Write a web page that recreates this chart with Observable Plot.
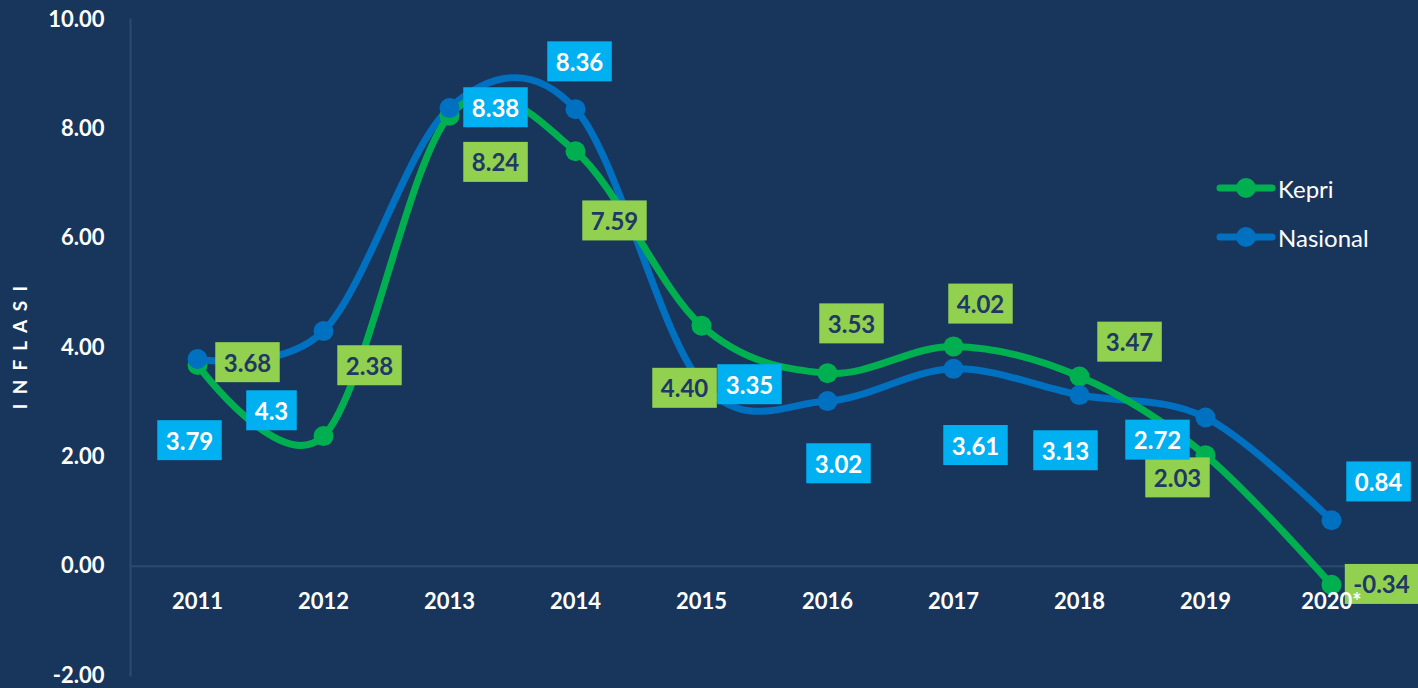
<!DOCTYPE html>
<html>
<head>
<meta charset="utf-8">
<script src="https://cdn.jsdelivr.net/npm/d3@7"></script>
<script src="https://cdn.jsdelivr.net/npm/@observablehq/plot@0.6"></script>
<style>
  html, body { margin: 0; padding: 0; background: #18365c; overflow: hidden; }
  #wrap { position: relative; width: 1418px; height: 688px; }
  #legend { position: absolute; left: 1216px; top: 170px; font-family: Lato, "Open Sans", sans-serif; font-size: 24px; color: #ffffff; }
  .li { display: flex; align-items: center; height: 36px; margin-bottom: 13px; }
  .li svg { display: block; margin-right: 2px; }
</style>
</head>
<body>
<div id="wrap"><div id="legend"></div></div>
<script>
const years = ["2011","2012","2013","2014","2015","2016","2017","2018","2019","2020*"];
const kepri = [3.68, 2.38, 8.24, 7.59, 4.40, 3.53, 4.02, 3.47, 2.03, -0.34];
const nasional = [3.79, 4.3, 8.38, 8.36, 3.35, 3.02, 3.61, 3.13, 2.72, 0.84];
const kepriLabels = ["3.68","2.38","8.24","7.59","4.40","3.53","4.02","3.47","2.03","-0.34"];
const nasionalLabels = ["3.79","4.3","8.38","8.36","3.35","3.02","3.61","3.13","2.72","0.84"];
const yTicks = [-2, 0, 2, 4, 6, 8, 10];
const yTitle = "INFLASI";

// label offsets (pixels) relative to each point
const kepriDx = [50, 46, 46, 39, -17, 24, 27, 50, -28, 50];
const kepriDy = [-1, -69, 48, 71, 64, -48, -41, -33, 24, 1];
const nasionalDx = [-8, -52, 46, 4, 48, 11, 22, -14, -48, 47];
const nasionalDy = [83, 81, 1, -46, 3, 64, 78, 57, 24, -37];

const KEPRI = "#00b050", NAS = "#0070c0";
const KBOX = "#92d050", NBOX = "#00b0f0", KTXT = "#1f3864";

const kData = years.map((y, i) => ({year: y, value: kepri[i], label: kepriLabels[i]}));
const nData = years.map((y, i) => ({year: y, value: nasional[i], label: nasionalLabels[i]}));

const labelMarks = [];
kData.forEach((d, i) => labelMarks.push(Plot.text([d], {x: "year", y: "value", text: "label", dx: kepriDx[i], dy: kepriDy[i], fill: KTXT, fontSize: 24, fontWeight: "bold"})));
nData.forEach((d, i) => labelMarks.push(Plot.text([d], {x: "year", y: "value", text: "label", dx: nasionalDx[i], dy: nasionalDy[i], fill: "#ffffff", fontSize: 24, fontWeight: "bold"})));

const spaced = yTitle.split("").join("\u00a0\u00a0");

const chart = Plot.plot({
  width: 1418,
  height: 688,
  marginLeft: 130,
  marginRight: 21,
  marginTop: 19,
  marginBottom: 13,
  style: {background: "#18365c", color: "#ffffff", fontFamily: "Lato, 'Open Sans', sans-serif", fontSize: "22px", fontWeight: "bold"},
  x: {type: "point", domain: years, padding: 0.5, axis: null},
  y: {domain: [-2, 10], ticks: yTicks, tickFormat: d => d.toFixed(2), tickSize: 0, tickPadding: 26, label: null},
  marks: [
    Plot.frame({anchor: "left", stroke: "#2c4a70", strokeWidth: 2}),
    Plot.ruleY([0], {stroke: "#2c4a70", strokeWidth: 2}),
    Plot.text([spaced], {frameAnchor: "left", textAnchor: "middle", y: 4, dx: -110, rotate: -90, text: d => d, fill: "#ffffff", fontSize: 19, fontWeight: "bold"}),
    Plot.line(nData, {x: "year", y: "value", stroke: NAS, strokeWidth: 7, curve: "cardinal"}),
    Plot.line(kData, {x: "year", y: "value", stroke: KEPRI, strokeWidth: 7, curve: "cardinal"}),
    Plot.dot(kData, {x: "year", y: "value", r: 10, fill: KEPRI}),
    Plot.dot(nData, {x: "year", y: "value", r: 10, fill: NAS}),
    ...labelMarks,
    Plot.text(years, {x: d => d, y: 0, dy: 36, text: d => d, fill: "#ffffff", fontSize: 22, fontWeight: "bold"})
  ]
});
document.getElementById("wrap").prepend(chart);

// boxes behind data labels
chart.querySelectorAll('g[font-size="24"]').forEach(g => {
  const fill = g.getAttribute("fill");
  const boxColor = fill === KTXT ? KBOX : NBOX;
  g.querySelectorAll("text").forEach(t => {
    const bb = t.getBBox();
    const r = document.createElementNS("http://www.w3.org/2000/svg", "rect");
    const w = bb.width + 17, h = 40;
    const cx = bb.x + bb.width / 2, cy = bb.y + bb.height / 2;
    r.setAttribute("x", cx - w / 2);
    r.setAttribute("y", cy - h / 2);
    r.setAttribute("width", w);
    r.setAttribute("height", h);
    r.setAttribute("fill", boxColor);
    r.setAttribute("stroke", "none");
    if (t.getAttribute("transform")) r.setAttribute("transform", t.getAttribute("transform"));
    g.insertBefore(r, t);
  });
});

// legend
const legend = document.getElementById("legend");
[["Kepri", KEPRI], ["Nasional", NAS]].forEach(([name, c]) => {
  const div = document.createElement("div");
  div.className = "li";
  div.innerHTML = `<svg width="60" height="24"><line x1="4" y1="12" x2="56" y2="12" stroke="${c}" stroke-width="7" stroke-linecap="round"/><circle cx="30" cy="12" r="10" fill="${c}"/></svg><span>${name}</span>`;
  legend.appendChild(div);
});
</script>
</body>
</html>
